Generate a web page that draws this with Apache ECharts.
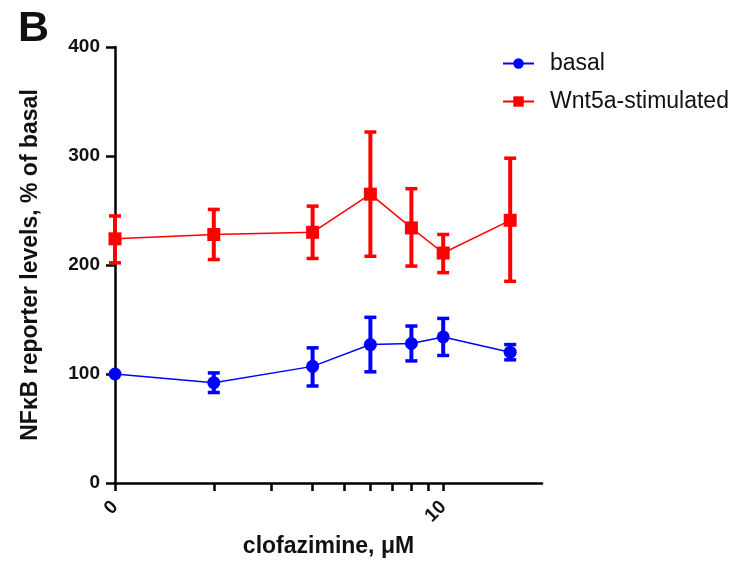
<!DOCTYPE html>
<html>
<head>
<meta charset="utf-8">
<script src="https://cdn.jsdelivr.net/npm/echarts@6/dist/echarts.min.js"></script>
<style>html,body{margin:0;padding:0;background:#fff;}#chart{width:733px;height:562px;}</style>
</head>
<body>
<div id="chart"></div>
<script>
// x positions on the log axis (the tick at 1 is labelled "0")
const xPositions = [1, 2, 4, 6, 8, 10, 16];
const xTickValues = [1, 2, 3, 4, 5, 6, 7, 8, 9, 10];
const xLabelValues = [1, 10];
const xLabelTexts = {1: '0', 10: '10'};
const seriesNames = ['basal', 'Wnt5a-stimulated'];
const basalMean = [100, 92, 107, 127, 128, 134, 120];
const basalLow  = [100, 83, 89, 102, 112, 117, 113];
const basalHigh = [100, 101, 124, 152, 144, 151, 127];
const wntMean = [224, 228, 230, 265, 234, 211, 241];
const wntLow  = [202, 205, 206, 208, 199, 193, 185];
const wntHigh = [245, 251, 254, 322, 270, 228, 298];
const yTicks = [0, 100, 200, 300, 400];

const FONT = '"Liberation Sans", Arial, Helvetica, sans-serif';
const BLUE = '#0000ff', RED = '#ff0000';

function pairs(xs, ys) { return xs.map((x, i) => [x, ys[i]]); }
function errData(xs, lo, hi) { return xs.map((x, i) => [x, lo[i], hi[i]]); }

function errRender(color) {
  return function (params, api) {
    const x = api.value(0);
    const lo = api.coord([x, api.value(1)]);
    const hi = api.coord([x, api.value(2)]);
    const cap = 6;
    return {
      type: 'group',
      children: [
        { type: 'line', shape: { x1: lo[0], y1: lo[1], x2: hi[0], y2: hi[1] }, style: { stroke: color, lineWidth: 4 } },
        { type: 'line', shape: { x1: lo[0] - cap, y1: lo[1], x2: lo[0] + cap, y2: lo[1] }, style: { stroke: color, lineWidth: 3.5 } },
        { type: 'line', shape: { x1: hi[0] - cap, y1: hi[1], x2: hi[0] + cap, y2: hi[1] }, style: { stroke: color, lineWidth: 3.5 } }
      ]
    };
  };
}

const chart = echarts.init(document.getElementById('chart'), null, { renderer: 'canvas' });
chart.setOption({
  animation: false,
  backgroundColor: '#fff',
  title: {
    text: 'B', left: 13, top: 3,
    textStyle: { fontFamily: FONT, fontSize: 43, fontWeight: 'bold', color: '#111' }
  },
  legend: {
    data: seriesNames,
    orient: 'vertical',
    left: 497, top: 47,
    itemWidth: 31, itemHeight: 13, itemGap: 15,
    textStyle: { fontFamily: FONT, fontSize: 23, color: '#111', padding: [0, 0, 0, 11] }
  },
  grid: { left: 115, right: 191, top: 47, bottom: 79, containLabel: false, outerBoundsMode: 'none' },
  xAxis: {
    type: 'log', logBase: 10, min: 1, max: 20,
    name: 'clofazimine, μM', nameLocation: 'middle', nameGap: 52,
    nameTextStyle: { fontFamily: FONT, fontSize: 23, fontWeight: 'bold', color: '#111' },
    axisLine: { show: true, lineStyle: { color: '#000', width: 2.5 } },
    axisTick: { show: true, length: 8, customValues: xTickValues, lineStyle: { color: '#000', width: 2.5 } },
    axisLabel: {
      customValues: xLabelValues, rotate: 45, margin: 21,
      formatter: v => xLabelTexts[Math.round(v)] || '',
      fontFamily: FONT, fontSize: 19, fontWeight: 'bold', color: '#111'
    },
    splitLine: { show: false }, minorTick: { show: false }
  },
  yAxis: {
    type: 'value', min: 0, max: 400, interval: 100,
    name: 'NFκB reporter levels, % of basal', nameLocation: 'middle', nameGap: 73,
    nameTextStyle: { fontFamily: FONT, fontSize: 23, fontWeight: 'bold', color: '#111' },
    axisLine: { show: true, lineStyle: { color: '#000', width: 2.5 } },
    axisTick: { show: true, length: 9, lineStyle: { color: '#000', width: 2.5 } },
    axisLabel: {
      margin: 15, fontFamily: FONT, fontSize: 19, fontWeight: 'bold', color: '#111',
      formatter: v => yTicks.includes(v) ? String(v) : ''
    },
    splitLine: { show: false }
  },
  series: [
    {
      name: 'basal-err', type: 'custom', renderItem: errRender(BLUE),
      data: errData(xPositions, basalLow, basalHigh), encode: { x: 0, y: [1, 2] }, z: 2, clip: false
    },
    {
      name: 'Wnt5a-err', type: 'custom', renderItem: errRender(RED),
      data: errData(xPositions, wntLow, wntHigh), encode: { x: 0, y: [1, 2] }, z: 2, clip: false
    },
    {
      name: seriesNames[0], type: 'line', data: pairs(xPositions, basalMean),
      symbol: 'circle', symbolSize: 13, clip: false, z: 3,
      lineStyle: { color: BLUE, width: 1.5 }, itemStyle: { color: BLUE }
    },
    {
      name: seriesNames[1], type: 'line', data: pairs(xPositions, wntMean),
      symbol: 'rect', symbolSize: 13, clip: false, z: 3,
      lineStyle: { color: RED, width: 1.5 }, itemStyle: { color: RED }
    }
  ]
});
</script>
</body>
</html>
